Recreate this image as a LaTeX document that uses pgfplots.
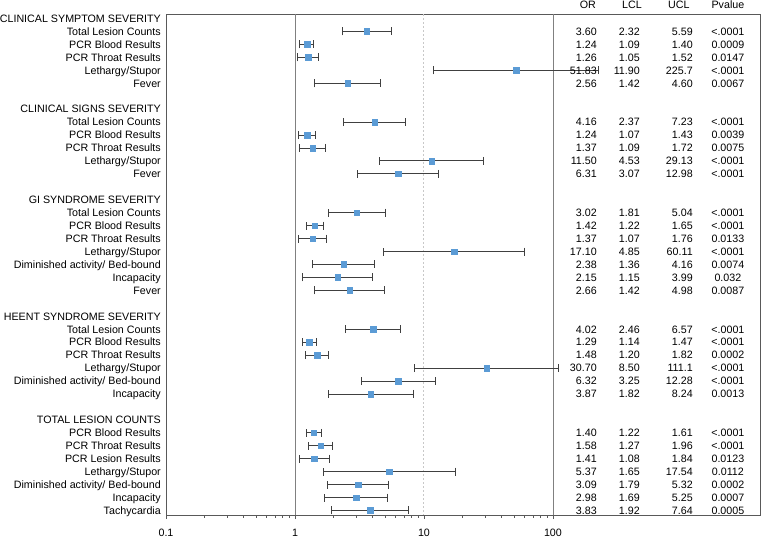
\documentclass[border=0pt]{standalone}
\usepackage{pgfplots}
\pgfplotsset{compat=1.18}
\usepackage{pgfplotstable}
\usepackage{fontspec}
\setmainfont{Liberation Sans}

\definecolor{markblue}{HTML}{5B9BD5}
\definecolor{boxgray}{HTML}{595959}
\definecolor{bargray}{HTML}{404040}
\definecolor{refgray}{HTML}{808080}
\definecolor{dashgray}{HTML}{C8C8C8}

% row index (0 = top line), odds ratio, lower and upper limit, p-value
\pgfplotstableread{
y   or     lcl    ucl    p
1   3.60   2.32   5.59   <.0001
2   1.24   1.09   1.40   0.0009
3   1.26   1.05   1.52   0.0147
4   51.83  11.90  225.7  <.0001
5   2.56   1.42   4.60   0.0067
8   4.16   2.37   7.23   <.0001
9   1.24   1.07   1.43   0.0039
10  1.37   1.09   1.72   0.0075
11  11.50  4.53   29.13  <.0001
12  6.31   3.07   12.98  <.0001
15  3.02   1.81   5.04   <.0001
16  1.42   1.22   1.65   <.0001
17  1.37   1.07   1.76   0.0133
18  17.10  4.85   60.11  <.0001
19  2.38   1.36   4.16   0.0074
20  2.15   1.15   3.99   0.032
21  2.66   1.42   4.98   0.0087
24  4.02   2.46   6.57   <.0001
25  1.29   1.14   1.47   <.0001
26  1.48   1.20   1.82   0.0002
27  30.70  8.50   111.1  <.0001
28  6.32   3.25   12.28  <.0001
29  3.87   1.82   8.24   0.0013
32  1.40   1.22   1.61   <.0001
33  1.58   1.27   1.96   <.0001
34  1.41   1.08   1.84   0.0123
35  5.37   1.65   17.54  0.0112
36  3.09   1.79   5.32   0.0002
37  2.98   1.69   5.25   0.0007
38  3.83   1.92   7.64   0.0005
}\ortable

\begin{document}
\begin{tikzpicture}[font=\fontsize{10.7}{13}\selectfont]
\begin{axis}[
  at={(166pt,22pt)}, anchor=south west,
  scale only axis, width=594pt, height=501pt,
  xmode=log, xmin=0.1, xmax=4030,
  ymin=-0.35, ymax=38.35, y dir=reverse,
  clip=false,
  axis line style={boxgray, line width=0.9pt},
  xtick={0.1,1,10,100}, xticklabels={0.1,1,10,100},
  minor xtick={0.2,0.3,0.4,0.5,0.6,0.7,0.8,0.9,2,3,4,5,6,7,8,9,20,30,40,50,60,70,80,90},
  xtick pos=bottom, xtick align=outside,
  major tick length=4pt, minor tick length=2.5pt,
  xtick style={boxgray, line width=0.8pt},
  xticklabel style={anchor=base, inner sep=0pt, yshift=-17pt},
  ytick={0,1,2,3,4,5,7,8,9,10,11,12,14,15,16,17,18,19,20,21,23,24,25,26,27,28,29,31,32,33,34,35,36,37,38},
  yticklabels={CLINICAL SYMPTOM SEVERITY, Total Lesion Counts, PCR Blood Results, PCR Throat Results, Lethargy/Stupor, Fever,
    CLINICAL SIGNS SEVERITY, Total Lesion Counts, PCR Blood Results, PCR Throat Results, Lethargy/Stupor, Fever,
    GI SYNDROME SEVERITY, Total Lesion Counts, PCR Blood Results, PCR Throat Results, Lethargy/Stupor, Diminished activity/ Bed-bound, Incapacity, Fever,
    HEENT SYNDROME SEVERITY, Total Lesion Counts, PCR Blood Results, PCR Throat Results, Lethargy/Stupor, Diminished activity/ Bed-bound, Incapacity,
    TOTAL LESION COUNTS, PCR Blood Results, PCR Throat Results, PCR Lesion Results, Lethargy/Stupor, Diminished activity/ Bed-bound, Incapacity, Tachycardia},
  ytick pos=left, ytick style={draw=none},
  yticklabel style={anchor=base east, inner sep=0pt, xshift=-5pt, yshift=-3.8pt, text=black},
]
% reference lines
\addplot[refgray, line width=0.8pt] coordinates {(1,-0.35) (1,38.35)};
\addplot[refgray, line width=0.8pt] coordinates {(100,-0.35) (100,38.35)};
\addplot[dashgray, line width=1pt, dash pattern=on 2pt off 2pt] coordinates {(10,-0.35) (10,38.35)};

% confidence limits
\addplot[only marks, mark=none,
  error bars/.cd, x dir=both, x explicit, error mark=|,
  error bar style={bargray, line width=0.9pt},
  error mark options={bargray, line width=0.9pt, mark size=4pt}]
  table[x=or, y=y, x error plus expr=\thisrow{ucl}-\thisrow{or}, x error minus expr=\thisrow{or}-\thisrow{lcl}] {\ortable};
% odds ratios
\addplot[markblue, only marks, mark=square*, mark size=2.8pt,
  mark options={draw=markblue, fill=markblue, line width=0.4pt}]
  table[x=or, y=y] {\ortable};

% table columns on the right
\addplot[draw=none, mark=none, nodes near coords, point meta=explicit symbolic,
  every node near coord/.append style={anchor=base east, inner sep=0pt, yshift=-3.8pt, text=black}]
  table[x expr=219.4, y=y, meta=or] {\ortable};
\addplot[draw=none, mark=none, nodes near coords, point meta=explicit symbolic,
  every node near coord/.append style={anchor=base east, inner sep=0pt, yshift=-3.8pt, text=black}]
  table[x expr=472.5, y=y, meta=lcl] {\ortable};
\addplot[draw=none, mark=none, nodes near coords, point meta=explicit symbolic,
  every node near coord/.append style={anchor=base east, inner sep=0pt, yshift=-3.8pt, text=black}]
  table[x expr=1217, y=y, meta=ucl] {\ortable};
\addplot[draw=none, mark=none, nodes near coords, point meta=explicit symbolic,
  every node near coord/.append style={anchor=base, inner sep=0pt, yshift=-3.8pt, text=black}]
  table[x expr=2273, y=y, meta=p] {\ortable};

\node[anchor=base, inner sep=0pt, yshift=-3.8pt] at (axis cs:186.7,-1.04) {OR};
\node[anchor=base, inner sep=0pt, yshift=-3.8pt] at (axis cs:409.8,-1.04) {LCL};
\node[anchor=base, inner sep=0pt, yshift=-3.8pt] at (axis cs:948,-1.04) {UCL};
\node[anchor=base, inner sep=0pt, yshift=-3.8pt] at (axis cs:2273,-1.04) {Pvalue};
\end{axis}
\pgfresetboundingbox
\useasboundingbox (0,0) rectangle (763pt,537pt);
\end{tikzpicture}
\end{document}
